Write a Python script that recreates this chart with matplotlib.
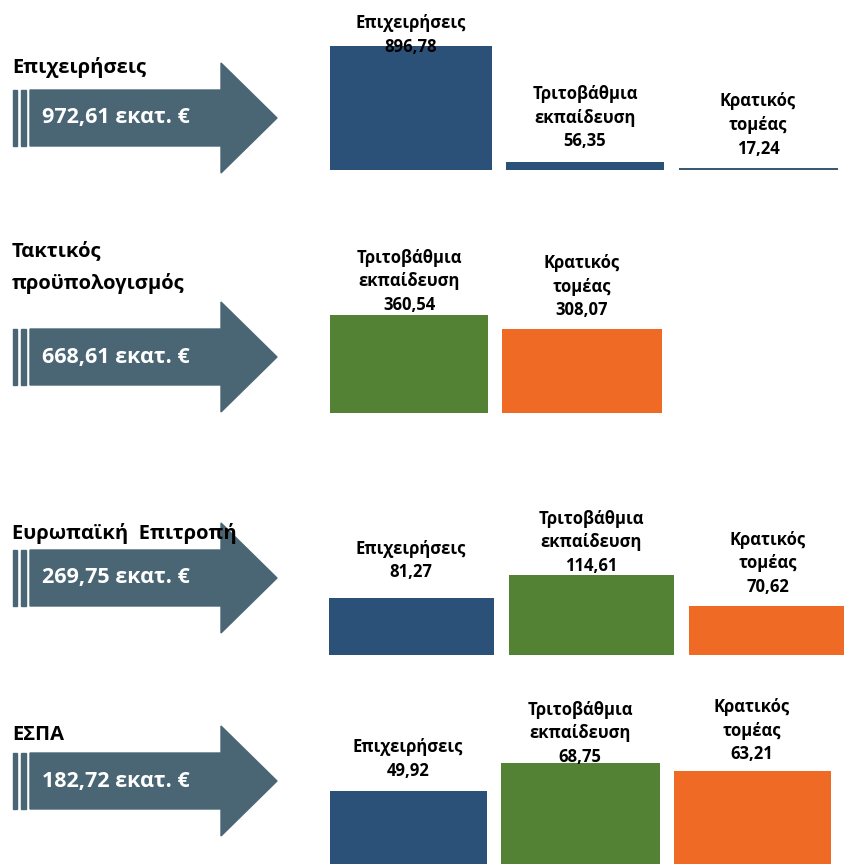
import matplotlib.pyplot as plt
from matplotlib.patches import Polygon

plt.rcParams['font.family'] = ['Open Sans', 'DejaVu Sans']

# Πηγές χρηματοδότησης και σύνολα (εκατ. €)
sources = ['Επιχειρήσεις', 'Τακτικός\nπροϋπολογισμός', 'Ευρωπαϊκή  Επιτροπή', 'ΕΣΠΑ']
totals = [972.61, 668.61, 269.75, 182.72]

# Κατανομή ανά τομέα εκτέλεσης
epix_labels = ['Επιχειρήσεις', 'Τριτοβάθμια\nεκπαίδευση', 'Κρατικός\nτομέας']
epix_values = [896.78, 56.35, 17.24]

taktikos_labels = ['Τριτοβάθμια\nεκπαίδευση', 'Κρατικός\nτομέας']
taktikos_values = [360.54, 308.07]

eu_labels = ['Επιχειρήσεις', 'Τριτοβάθμια\nεκπαίδευση', 'Κρατικός\nτομέας']
eu_values = [81.27, 114.61, 70.62]

espa_labels = ['Επιχειρήσεις', 'Τριτοβάθμια\nεκπαίδευση', 'Κρατικός\nτομέας']
espa_values = [49.92, 68.75, 63.21]

BLUE = '#2b5179'
GREEN = '#548235'
ORANGE = '#ef6a24'
ARROW = '#4a6674'
W, H = 844, 864

# διάταξη ανά γραμμή (σε pixel)
rows = [
    dict(labels=epix_labels, values=epix_values, colors=[BLUE, BLUE, '#3a5a73'],
         base=170, hpx=124, centers=[411, 585, 758], widths=[162, 158, 159],
         offs=[-10, 12, 10], cy=118, head_y=[67]),
    dict(labels=taktikos_labels, values=taktikos_values, colors=[GREEN, ORANGE],
         base=413, hpx=98, centers=[409, 582], widths=[158, 160],
         offs=[1, 10], cy=357, head_y=[251, 284]),
    dict(labels=eu_labels, values=eu_values, colors=[BLUE, GREEN, ORANGE],
         base=655, hpx=80, centers=[411, 591, 768], widths=[165, 165, 159],
         offs=[17, 0, 10], cy=578, head_y=[533]),
    dict(labels=espa_labels, values=espa_values, colors=[BLUE, GREEN, ORANGE],
         base=864, hpx=101, centers=[408, 580, 752], widths=[157, 159, 157],
         offs=[11, -3, 8], cy=781, head_y=[735]),
]

fig = plt.figure(figsize=(W / 100, H / 100), dpi=100)
bg = fig.add_axes([0, 0, 1, 1])
bg.set_xlim(0, W)
bg.set_ylim(H, 0)
bg.axis('off')


def fmt(v):
    return f'{v:.2f}'.replace('.', ',')


for src, total, r in zip(sources, totals, rows):
    cy = r['cy']
    # βέλος
    body, head = 28, 55
    pts = [(30, cy - body), (221, cy - body), (221, cy - head), (277, cy),
           (221, cy + head), (221, cy + body), (30, cy + body)]
    bg.add_patch(Polygon(pts, closed=True, color=ARROW, zorder=1))
    for x0, x1 in [(13, 17), (21, 26)]:
        bg.add_patch(Polygon([(x0, cy - body), (x1, cy - body), (x1, cy + body), (x0, cy + body)],
                             closed=True, color=ARROW, zorder=1))
    bg.text(42, cy, f'{fmt(total)} εκατ. €', color='white', fontsize=15.5,
            fontweight='bold', ha='left', va='center', zorder=3)
    # τίτλος πηγής
    for line, y in zip(src.split('\n'), r['head_y']):
        bg.text(12, y, line, fontsize=14.5, fontweight='bold', ha='left', va='center',
                color='black', zorder=4)

    # ράβδοι
    ax = fig.add_axes([0, 1 - r['base'] / H, 1, r['hpx'] / H])
    ax.set_xlim(0, W)
    ax.set_ylim(0, max(r['values']))
    ax.axis('off')
    ax.bar(r['centers'], r['values'], width=r['widths'], color=r['colors'], clip_on=False)
    for cx, v, lab, off in zip(r['centers'], r['values'], r['labels'], r['offs']):
        ax.annotate(f'{lab}\n{fmt(v)}', xy=(cx, v), xytext=(0, off), textcoords='offset pixels',
                    ha='center', va='bottom', fontsize=12, fontweight='bold',
                    linespacing=1.4, annotation_clip=False, zorder=5)

fig.savefig('out.png', dpi=100, facecolor='white')
